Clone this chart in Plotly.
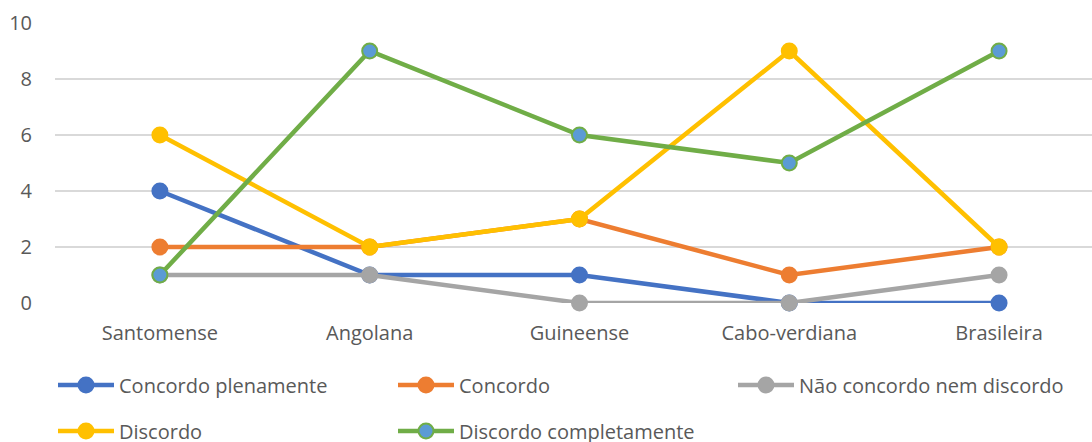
import plotly.graph_objects as go

categories = ["Santomense", "Angolana", "Guineense", "Cabo-verdiana", "Brasileira"]
series_names = ["Concordo plenamente", "Concordo", "Não concordo nem discordo",
                "Discordo", "Discordo completamente"]
concordo_plenamente = [4, 1, 1, 0, 0]
concordo = [2, 2, 3, 1, 2]
nao_concordo_nem_discordo = [1, 1, 0, 0, 1]
discordo = [6, 2, 3, 9, 2]
discordo_completamente = [1, 9, 6, 5, 9]
y_ticks = [0, 2, 4, 6, 8, 10]

values = [concordo_plenamente, concordo, nao_concordo_nem_discordo, discordo, discordo_completamente]
line_colors = ["#4472C4", "#ED7D31", "#A5A5A5", "#FFC000", "#70AD47"]
marker_fills = ["#4472C4", "#ED7D31", "#A5A5A5", "#FFC000", "#5B9BD5"]
legends = ["legend", "legend", "legend", "legend2", "legend2"]

FONT = "Open Sans"
TXT = "#595959"

fig = go.Figure()
for name, vals, lc, mf, lg in zip(series_names, values, line_colors, marker_fills, legends):
    fig.add_trace(go.Scatter(
        x=categories, y=vals, name=name, mode="lines+markers",
        line=dict(color=lc, width=4.5),
        marker=dict(size=15, color=mf, line=dict(color=lc, width=2)),
        cliponaxis=False, legend=lg,
    ))

legend_common = dict(
    orientation="h", xref="container", yref="container",
    xanchor="left", yanchor="middle",
    entrywidth=269, entrywidthmode="pixels", itemwidth=56,
    font=dict(family=FONT, size=20, color=TXT),
    bgcolor="rgba(0,0,0,0)",
)

fig.update_layout(
    width=1092, height=442,
    margin=dict(l=55, r=0, t=23, b=139, autoexpand=False),
    paper_bgcolor="white", plot_bgcolor="white",
    font=dict(family=FONT, size=20, color=TXT),
    showlegend=True,
    legend=dict(x=53 / 1092, y=1 - 385 / 442, **legend_common),
    legend2=dict(x=53 / 1092, y=1 - 431 / 442, **legend_common),
    xaxis=dict(
        type="category", range=[-0.5, 4.443], automargin=False,
        showgrid=False, zeroline=False, showline=False, ticks="",
        tickfont=dict(family=FONT, size=20, color=TXT),
        ticklabelstandoff=16,
    ),
    yaxis=dict(
        range=[0, 10], tickvals=y_ticks, automargin=False,
        showgrid=True, gridcolor="#D9D9D9", gridwidth=1.5,
        zeroline=False, showline=False, ticks="",
        tickfont=dict(family=FONT, size=20, color=TXT),
        ticklabelstandoff=22,
    ),
)

fig.write_html("out.html", config={"displayModeBar": False},
               post_script="document.body.style.margin='0';")
